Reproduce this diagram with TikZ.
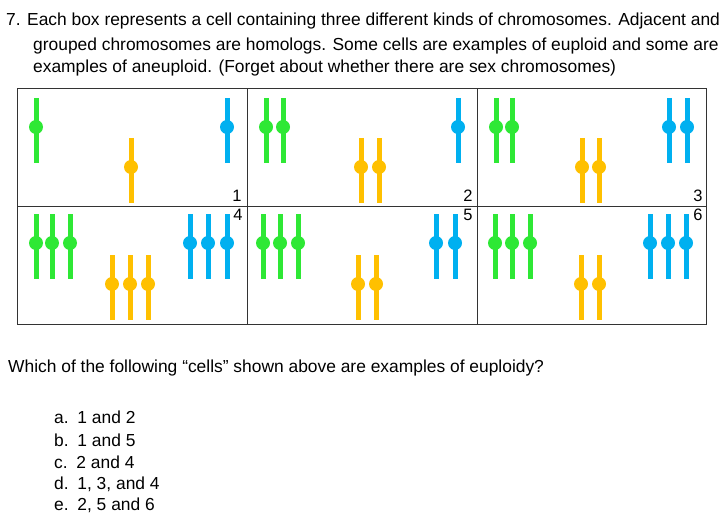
\documentclass[tikz,border=0pt]{standalone}
\usepackage{fontspec}
\setmainfont{Liberation Sans}
\definecolor{cg}{HTML}{2EE835}
\definecolor{cy}{HTML}{FFC000}
\definecolor{cb}{HTML}{00B0F0}
\begin{document}
\begin{tikzpicture}[x=1pt,y=-1pt,
  txt/.style={anchor=west,inner sep=0pt,font=\fontsize{17.4}{20}\selectfont},
  num/.style={inner sep=0pt,font=\fontsize{16.5}{18}\selectfont},
  chrom/.style={line width=5pt}]
\useasboundingbox (0,0) rectangle (727,513);
\node[txt] (l1) at (6,21) {7. Each box represents a cell containing three different kinds of chromosomes. Adjacent and};
\node[txt] (l2) at (33,46) {grouped chromosomes are homologs. Some cells are examples of euploid and some are};
\node[txt] (l3) at (33,68) {examples of aneuploid. (Forget about whether there are sex chromosomes)};
\draw[line width=1pt,black!80] (17,89) rectangle (706,324) (17,206) -- (706,206) (247,89) -- (247,324) (477,89) -- (477,324);
\newcommand{\chrom}[3]{\draw[chrom,#3] (#1,#2) -- (#1,#2+65); \fill[#3] (#1,#2+29) circle (7);}
% cell 1
\chrom{36}{98}{cg}\chrom{131}{138}{cy}\chrom{227}{98}{cb}
% cell 2
\foreach \x in {266,283} {\chrom{\x}{98}{cg}}
\foreach \x in {361,379} {\chrom{\x}{138}{cy}}
\chrom{458}{98}{cb}
% cell 3
\foreach \x in {496,512} {\chrom{\x}{98}{cg}}
\foreach \x in {582,599} {\chrom{\x}{138}{cy}}
\foreach \x in {669,687} {\chrom{\x}{98}{cb}}
% cell 4
\foreach \x in {36,52,70} {\chrom{\x}{214}{cg}}
\foreach \x in {112,130,148} {\chrom{\x}{255}{cy}}
\foreach \x in {190,208,227} {\chrom{\x}{214}{cb}}
% cell 5
\foreach \x in {263,280,298} {\chrom{\x}{214}{cg}}
\foreach \x in {358,376} {\chrom{\x}{255}{cy}}
\foreach \x in {436,455} {\chrom{\x}{214}{cb}}
% cell 6
\foreach \x in {495,512,530} {\chrom{\x}{214}{cg}}
\foreach \x in {581,599} {\chrom{\x}{255}{cy}}
\foreach \x in {650,668,686} {\chrom{\x}{214}{cb}}
\node[num] (n1) at (237,196) {1};
\node[num] (n2) at (468,196) {2};
\node[num] (n3) at (698,196) {3};
\node[num] (n4) at (238,215) {4};
\node[num] (n5) at (468,215) {5};
\node[num] (n6) at (698,215) {6};
\node[txt] (q) at (8,368) {Which of the following “cells” shown above are examples of euploidy?};
\node[txt] (a) at (54,417) {a.\enspace 1 and 2};
\node[txt] (b) at (54,440) {b.\enspace 1 and 5};
\node[txt] (c) at (54,462) {c.\enspace 2 and 4};
\node[txt] (d) at (54,484) {d.\enspace 1, 3, and 4};
\node[txt] (e) at (54,505) {e.\enspace 2, 5 and 6};
\end{tikzpicture}
\end{document}
